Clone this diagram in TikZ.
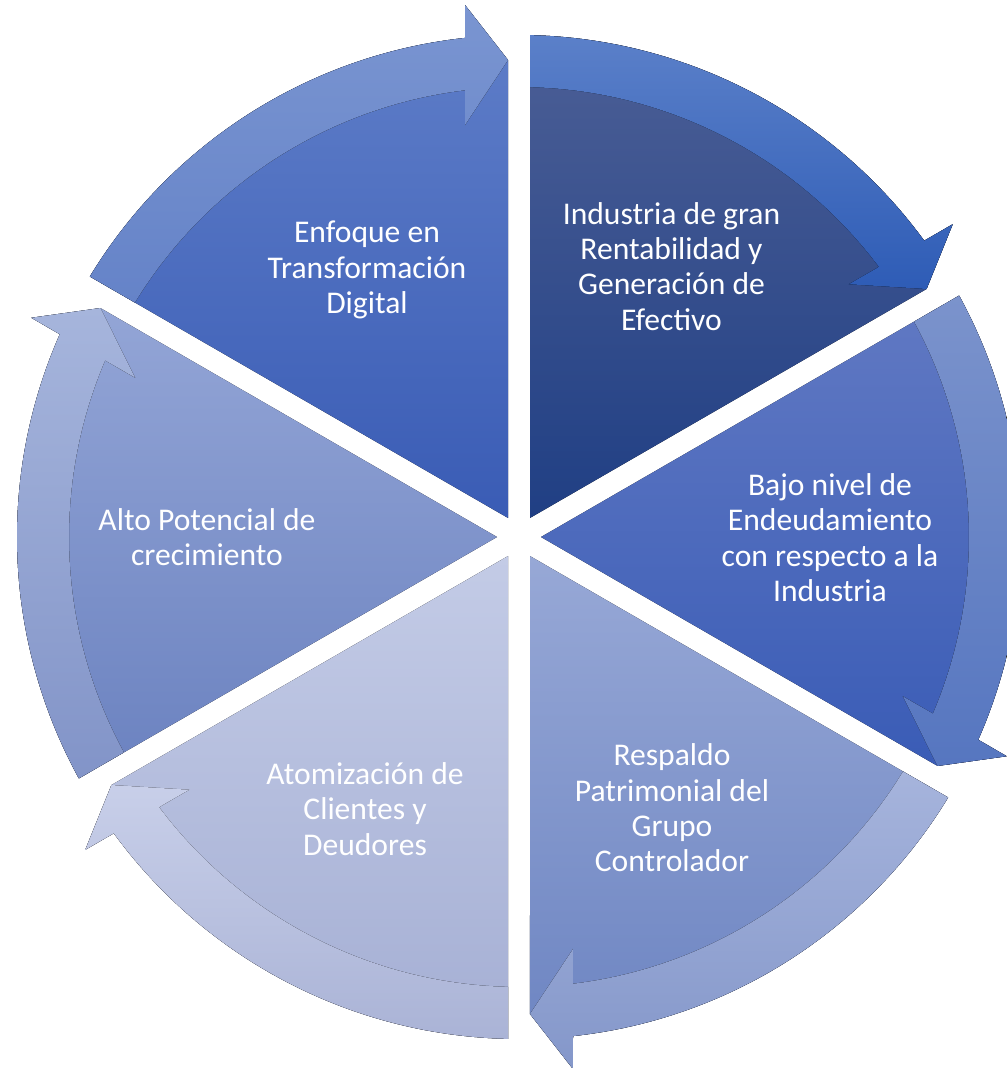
\documentclass[tikz,border=0pt]{standalone}
\usepackage{fontspec}
\setmainfont{Carlito}
\definecolor{eBodyT}{HTML}{607FC9}\definecolor{eBodyB}{HTML}{3A5CB5}
\definecolor{eBandT}{HTML}{7A95D1}\definecolor{eBandB}{HTML}{6583C8}
\definecolor{iBodyT}{HTML}{4C5F96}\definecolor{iBodyB}{HTML}{203F84}
\definecolor{iBandT}{HTML}{5B80C9}\definecolor{iBandB}{HTML}{2E5CB6}
\definecolor{bBodyT}{HTML}{6179C3}\definecolor{bBodyB}{HTML}{3A5CB6}
\definecolor{bBandT}{HTML}{7B93CC}\definecolor{bBandB}{HTML}{5676C0}
\definecolor{rBodyT}{HTML}{97A8D6}\definecolor{rBodyB}{HTML}{6B83C1}
\definecolor{rBandT}{HTML}{A6B4DC}\definecolor{rBandB}{HTML}{8497CA}
\definecolor{aBodyT}{HTML}{C3CBE6}\definecolor{aBodyB}{HTML}{A5AFD4}
\definecolor{aBandT}{HTML}{C8CFE9}\definecolor{aBandB}{HTML}{AAB3D6}
\definecolor{pBodyT}{HTML}{93A5D6}\definecolor{pBodyB}{HTML}{6B82C0}
\definecolor{pBandT}{HTML}{A6B5DC}\definecolor{pBandB}{HTML}{8294C8}
% #1 angle of arrow end, #2/#3 body top/bottom, #4/#5 band top/bottom
\newcommand\cycseg[5]{%
  \begin{scope}[shift={(519,-537)}]
    \pgfmathsetmacro\sA{#1+30}
    \pgfmathsetmacro\sB{#1+1.321}
    \pgfmathsetmacro\sC{#1+5.796}
    \pgfmathsetmacro\sD{#1+6.176}
    \pgfmathsetmacro\sE{#1+58.744}
    \pgfmathsetmacro\sF{#1+7.467}
    \pgfmathsetmacro\sG{#1+6.892}
    \pgfmathsetmacro\sH{#1+58.599}
    \fill[top color=#2, bottom color=#3]
      (\sA:22) -- (\sB:477.13) -- (\sC:534.73) -- (\sD:502)
      arc[start angle=\sD, end angle=\sE, radius=502] -- cycle;
    \fill[top color=#4, bottom color=#5]
      (\sE:502) arc[start angle=\sE, end angle=\sD, radius=502]
      -- (\sC:534.73) -- (\sB:477.13) -- (\sF:415.52) -- (\sG:450)
      arc[start angle=\sG, end angle=\sH, radius=450] -- cycle;
  \end{scope}}
\begin{document}
\begin{tikzpicture}[x=0.75pt,y=0.75pt,
  lbl/.style={text=white, align=center, inner sep=0pt, anchor=base,
    font=\fontsize{23.7}{26.5}\selectfont}]
\useasboundingbox (0,0) rectangle (1007,-1068);
\cycseg{90}{eBodyT}{eBodyB}{eBandT}{eBandB}
\cycseg{30}{iBodyT}{iBodyB}{iBandT}{iBandB}
\cycseg{-30}{bBodyT}{bBodyB}{bBandT}{bBandB}
\cycseg{-90}{rBodyT}{rBodyB}{rBandT}{rBandB}
\cycseg{-150}{aBodyT}{aBodyB}{aBandT}{aBandB}
\cycseg{150}{pBodyT}{pBodyB}{pBandT}{pBandB}
% anchor=base sits on the baseline of the last line
\node[lbl] (tE) at (367,-313.6) {Enfoque en\\Transformación\\Digital};
\node[lbl] (tI) at (671.5,-330) {Industria de gran\\Rentabilidad y\\Generación de\\Efectivo};
\node[lbl] (tB) at (830,-601.5) {Bajo nivel de\\Endeudamiento\\con respecto a la\\Industria};
\node[lbl] (tR) at (672,-871.7) {Respaldo\\Patrimonial del\\Grupo\\Controlador};
\node[lbl] (tA) at (365,-855) {Atomización de\\Clientes y\\Deudores};
\node[lbl] (tP) at (207,-565.7) {Alto Potencial de\\crecimiento};
\end{tikzpicture}
\end{document}
